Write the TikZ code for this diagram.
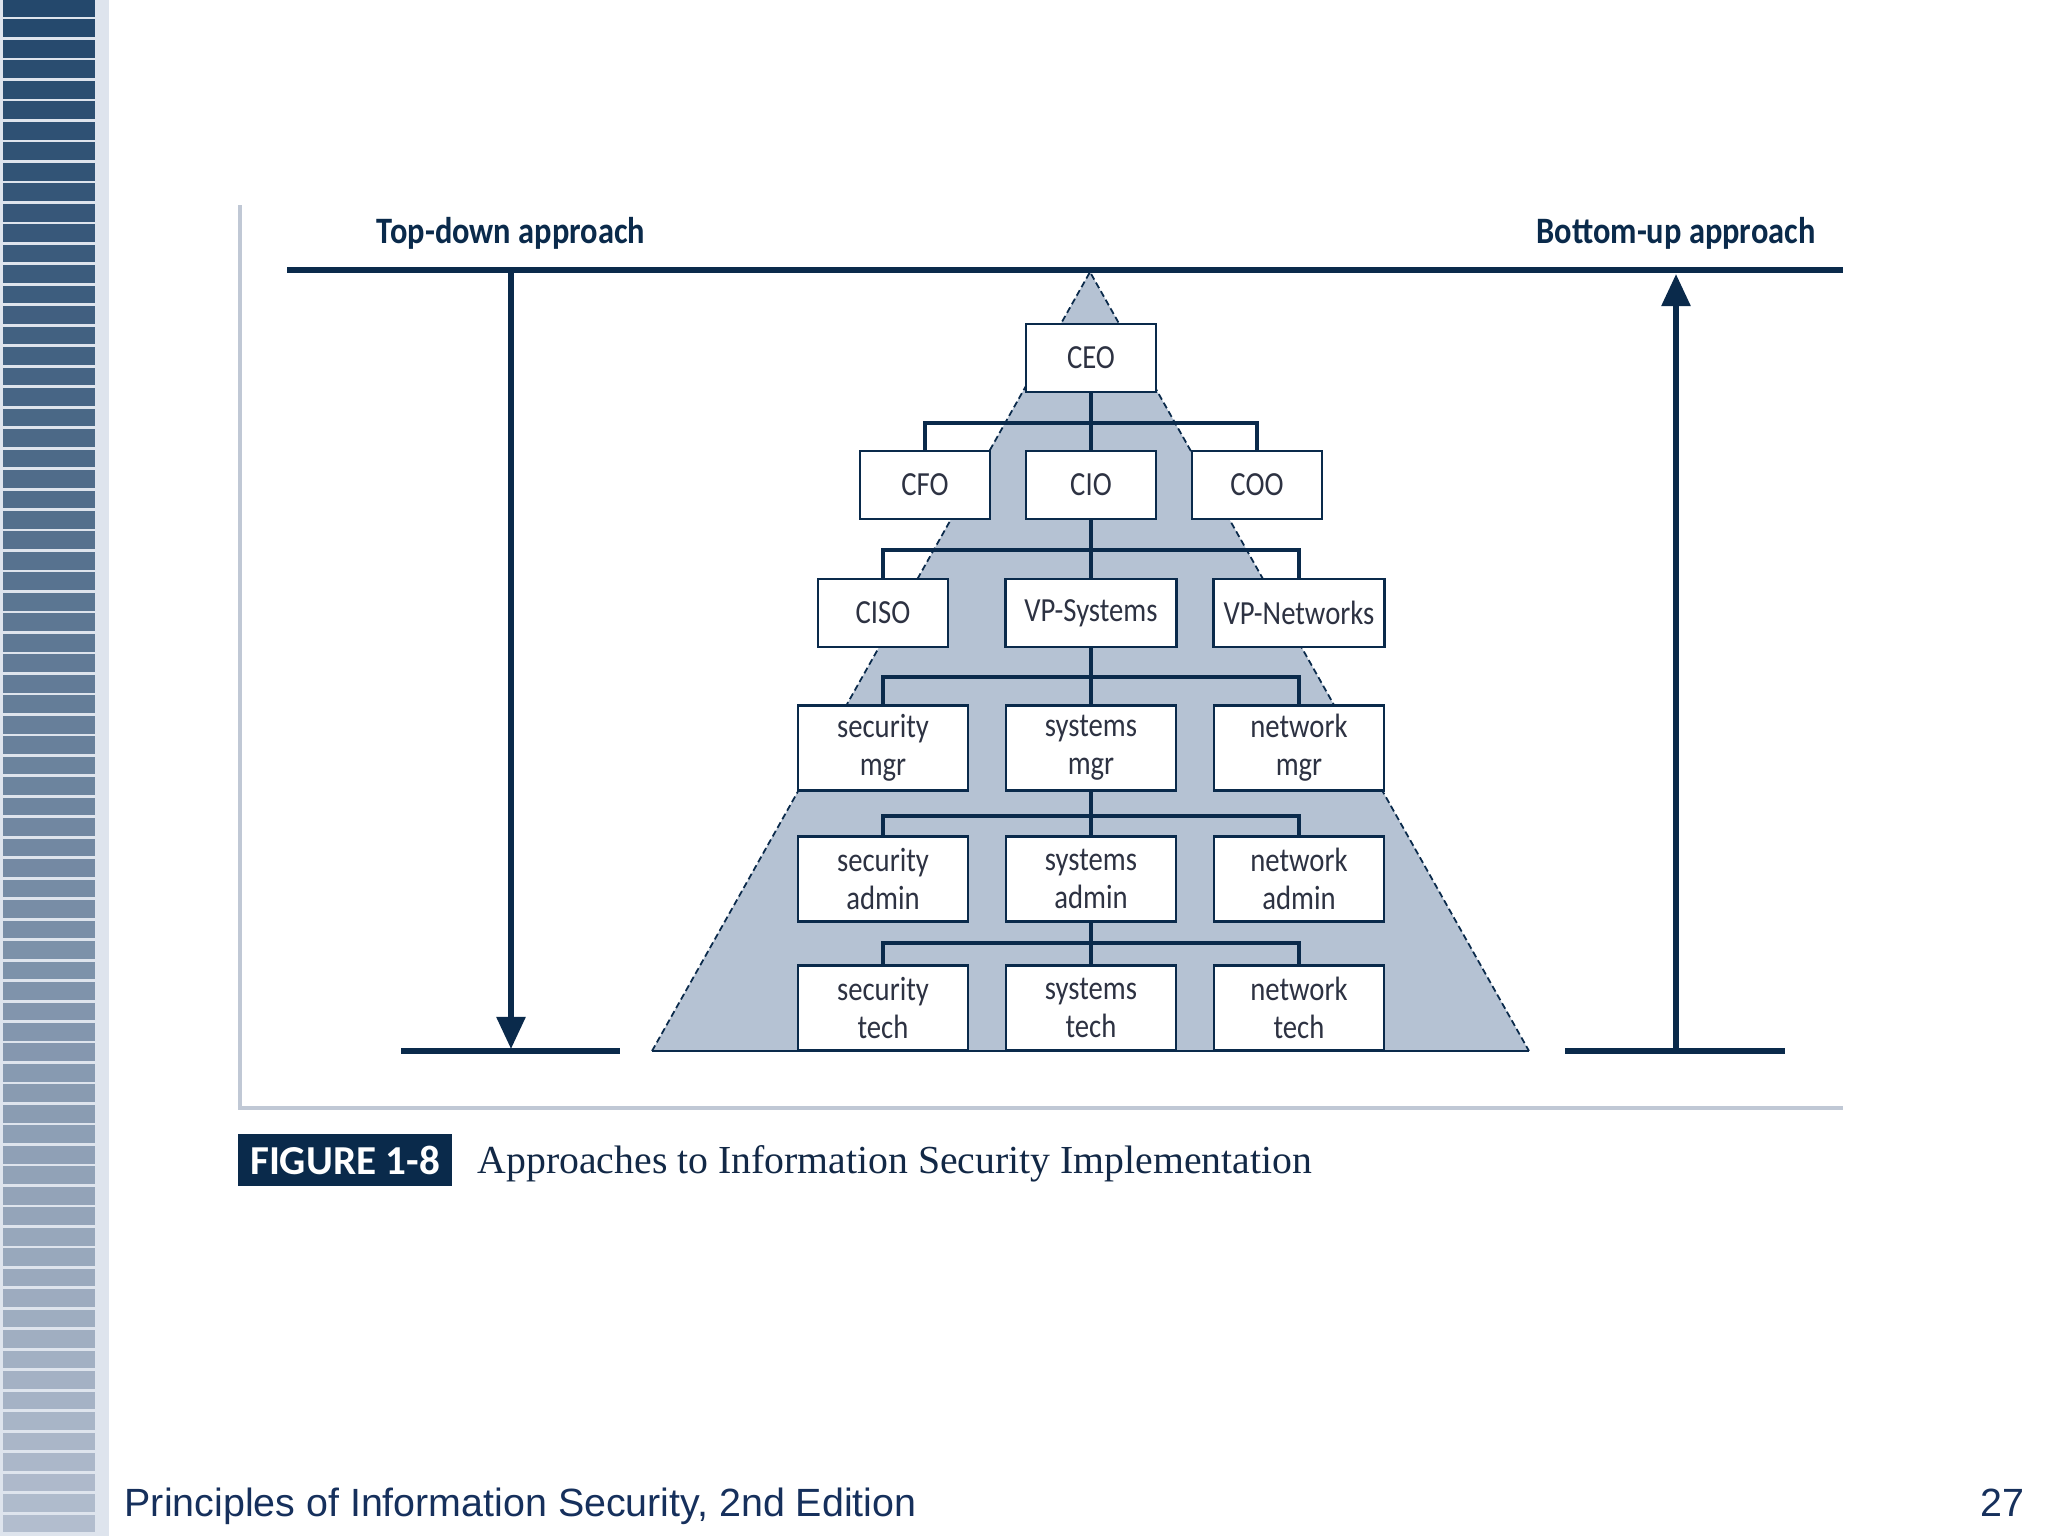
\documentclass[tikz,border=0pt]{standalone}
\usepackage{fontspec}
\setmainfont{Liberation Serif}
\newfontfamily\boxfont[FakeStretch=0.85]{Carlito}
\newfontfamily\headfont[FakeStretch=0.87]{Carlito}
\newfontfamily\tagfont{Carlito}
\newfontfamily\footfont{Liberation Sans}
\usetikzlibrary{arrows.meta}

\definecolor{navy}{RGB}{10,42,75}
\definecolor{boxtext}{RGB}{45,50,66}
\definecolor{pyrfill}{RGB}{181,194,211}
\definecolor{framegrey}{RGB}{192,200,213}
\definecolor{stripetop}{RGB}{36,72,108}
\definecolor{stripebot}{RGB}{178,189,206}
\definecolor{stripebg}{RGB}{222,228,237}
\definecolor{foottext}{RGB}{22,48,92}
\definecolor{captext}{RGB}{18,40,70}

\tikzset{
  orgbox/.style={draw=navy, line width=0.7pt, fill=white, inner sep=0pt,
    minimum width=1.30cm, minimum height=0.68cm, text=boxtext,
    font=\boxfont\fontsize{9.6}{10.8}\selectfont},
  widebox/.style={orgbox, minimum width=1.71cm},
  tallbox/.style={orgbox, minimum width=1.70cm, minimum height=0.85cm, align=center},
  orgline/.style={navy, line width=1.4pt},
  approach/.style={navy, line width=1.8pt},
  headlabel/.style={anchor=base, inner sep=0pt, text=navy,
    font=\headfont\bfseries\fontsize{10.6}{12}\selectfont},
}

\begin{document}
\begin{tikzpicture}[x=0.01cm, y=-0.01cm]
  \useasboundingbox (0,0) rectangle (2048,1536);
  \fill[white] (0,0) rectangle (2048,1536);

  % Streifen links
  \fill[stripebg] (0,0) rectangle (109,1536);
  \foreach \i in {0,...,74} {
      \pgfmathtruncatemacro\mix{100*\i/74}
      \fill[stripebot!\mix!stripetop] (3,{20.48*\i-1}) rectangle (95,{20.48*\i+16.7});
  }

  % Rahmen
  \draw[framegrey, line width=0.9pt] (240,205) -- (240,1108) -- (1843,1108);

  % Pyramide
  \coordinate (apex) at (1090,272);
  \coordinate (pyrL) at (652,1051);
  \coordinate (pyrR) at (1529,1051);
  \fill[pyrfill] (apex) -- (pyrL) -- (pyrR) -- cycle;
  \draw[navy, line width=0.5pt, dash pattern=on 1.8pt off 1pt] (pyrL) -- (apex) -- (pyrR);
  \draw[navy, line width=0.6pt] (pyrL) -- (pyrR);

  % Ansaetze
  \coordinate (topL) at (287,270);
  \coordinate (topR) at (1843,270);
  \coordinate (tdstart) at (511,270);
  \coordinate (tdend) at (511,1049);
  \coordinate (bustart) at (1676,1051);
  \coordinate (buend) at (1676,274);
  \draw[approach] (topL) -- (topR);
  \draw[approach] (401,1051) -- (620,1051);
  \draw[approach] (1565,1051) -- (1785,1051);
  \draw[approach, line width=1.6pt, -{Triangle[length=3.2mm,width=2.8mm]}] (tdstart) -- (tdend);
  \draw[approach, line width=1.6pt, -{Triangle[length=3.2mm,width=2.8mm]}] (bustart) -- (buend);
  \node[headlabel] (tdlabel) at (511,243) {Top-down approach};
  \node[headlabel] (bulabel) at (1676,243) {Bottom-up approach};

  % Organigramm
  \node[orgbox] (ceo) at (1091,358) {CEO};
  \node[orgbox] (cfo) at (925,485) {CFO};
  \node[orgbox] (cio) at (1091,485) {CIO};
  \node[orgbox] (coo) at (1257,485) {COO};
  \node[orgbox] (ciso) at (883,613) {CISO};
  \node[widebox] (vpsys) at (1091,613) {VP-Systems};
  \node[widebox] (vpnet) at (1299,613) {VP-Networks};
  \node[tallbox] (secmgr) at (883,748) {security\\mgr};
  \node[tallbox] (sysmgr) at (1091,748) {systems\\mgr};
  \node[tallbox] (netmgr) at (1299,748) {network\\mgr};
  \node[tallbox] (secadm) at (883,879) {security\\admin};
  \node[tallbox] (sysadm) at (1091,879) {systems\\admin};
  \node[tallbox] (netadm) at (1299,879) {network\\admin};
  \node[tallbox] (sectech) at (883,1008) {security\\tech};
  \node[tallbox] (systech) at (1091,1008) {systems\\tech};
  \node[tallbox] (nettech) at (1299,1008) {network\\tech};

  % Verbindungen
  \coordinate (bus1) at (1091,423);
  \coordinate (bus2) at (1091,550);
  \coordinate (bus3) at (1091,677);
  \coordinate (bus4) at (1091,816);
  \coordinate (bus5) at (1091,943);
  \draw[orgline] (ceo.south) -- (cio.north);
  \draw[orgline] (cfo.north) |- (bus1) -| (coo.north);
  \draw[orgline] (cio.south) -- (vpsys.north);
  \draw[orgline] (ciso.north) |- (bus2) -| (vpnet.north);
  \draw[orgline] (vpsys.south) -- (sysmgr.north);
  \draw[orgline] (secmgr.north) |- (bus3) -| (netmgr.north);
  \draw[orgline] (sysmgr.south) -- (sysadm.north);
  \draw[orgline] (secadm.north) |- (bus4) -| (netadm.north);
  \draw[orgline] (sysadm.south) -- (systech.north);
  \draw[orgline] (sectech.north) |- (bus5) -| (nettech.north);

  % Bildunterschrift
  \node[fill=navy, text=white, inner sep=0pt, minimum width=2.14cm, minimum height=0.52cm,
        font=\tagfont\bfseries\fontsize{11.7}{12}\selectfont] (figtag) at (345,1160) {FIGURE 1-8};
  \node[anchor=base west, inner sep=0pt, text=captext, font=\fontsize{11.3}{13}\selectfont]
        (figcap) at (477,1173) {Approaches to Information Security Implementation};

  % Fusszeile
  \node[anchor=base west, inner sep=0pt, text=foottext, font=\footfont\fontsize{11.2}{13}\selectfont]
        (footer) at (124,1516) {Principles of Information Security, 2nd Edition};
  \node[anchor=base east, inner sep=0pt, text=foottext, font=\footfont\fontsize{11.2}{13}\selectfont]
        (pagenum) at (2025,1516) {27};
\end{tikzpicture}
\end{document}
